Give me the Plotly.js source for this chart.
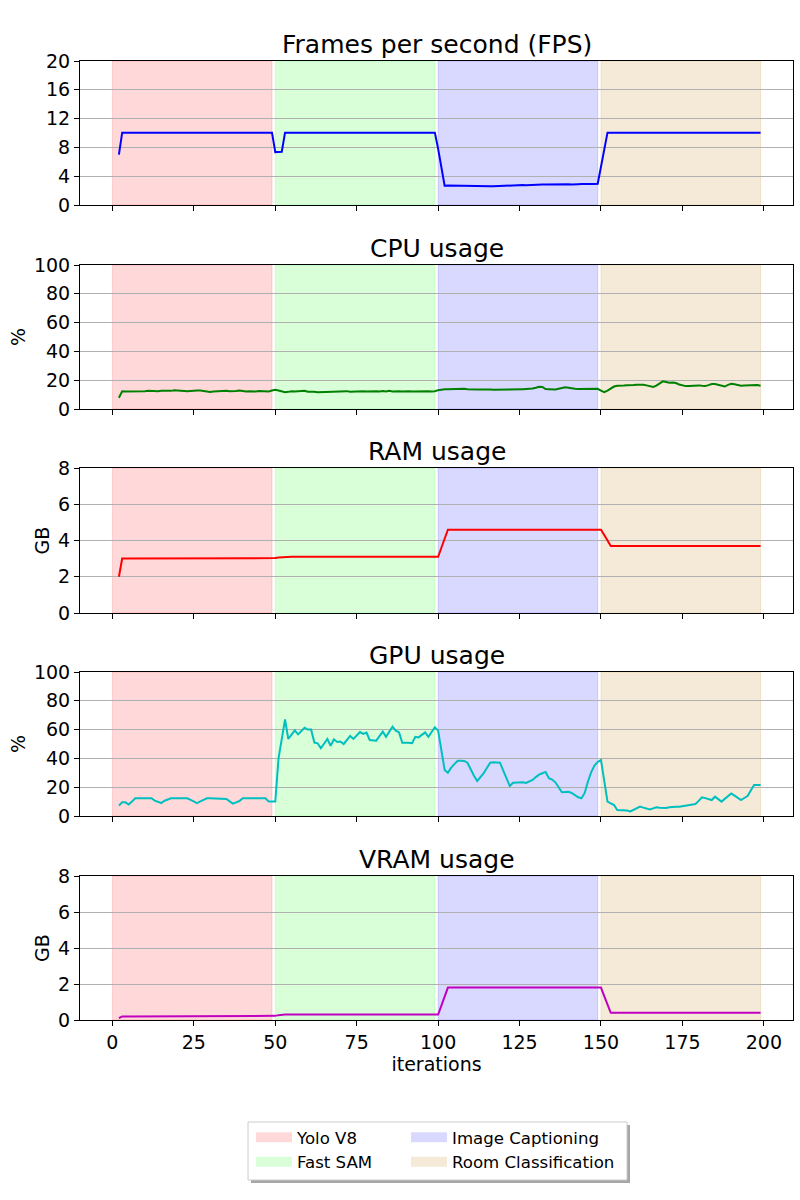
<!DOCTYPE html>
<html>
<head>
<meta charset="utf-8">
<script src="https://cdn.plot.ly/plotly-3.0.1.min.js"></script>
<style>html,body{margin:0;padding:0;background:#fff;}#chart{width:800px;height:1200px;}</style>
</head>
<body>
<div id="chart"></div>
<script>
// ---------------- DATA ----------------
const firstIteration = 2; // iterations run from 2 to 199

const phaseNames = ["Yolo V8", "Fast SAM", "Image Captioning", "Room Classification"];
const phaseStart = [0, 50, 100, 150];
const phaseEnd = [49, 99, 149, 199];

const fps = [
  7.0, 10.05, 10.05, 10.05, 10.05, 10.05, 10.05, 10.05, 10.05, 10.05,
  10.05, 10.05, 10.05, 10.05, 10.05, 10.05, 10.05, 10.05, 10.05, 10.05,
  10.05, 10.05, 10.05, 10.05, 10.05, 10.05, 10.05, 10.05, 10.05, 10.05,
  10.05, 10.05, 10.05, 10.05, 10.05, 10.05, 10.05, 10.05, 10.05, 10.05,
  10.05, 10.05, 10.05, 10.05, 10.05, 10.05, 10.05, 10.05, 7.35, 7.35,
  7.4, 10.05, 10.05, 10.05, 10.05, 10.05, 10.05, 10.05, 10.05, 10.05,
  10.05, 10.05, 10.05, 10.05, 10.05, 10.05, 10.05, 10.05, 10.05, 10.05,
  10.05, 10.05, 10.05, 10.05, 10.05, 10.05, 10.05, 10.05, 10.05, 10.05,
  10.05, 10.05, 10.05, 10.05, 10.05, 10.05, 10.05, 10.05, 10.05, 10.05,
  10.05, 10.05, 10.05, 10.05, 10.05, 10.05, 10.05, 10.05, 7.8, 5.2,
  2.68, 2.72, 2.72, 2.70, 2.68, 2.66, 2.62, 2.64, 2.66, 2.70,
  2.72, 2.70, 2.66, 2.64, 2.62, 2.60, 2.62, 2.66, 2.70, 2.75,
  2.78, 2.76, 2.80, 2.82, 2.78, 2.74, 2.78, 2.80, 2.83, 2.82,
  2.85, 2.84, 2.86, 2.82, 2.86, 2.88, 2.86, 2.90, 2.88, 2.86,
  2.92, 2.88, 2.90, 2.88, 2.90, 2.88, 2.92, 2.95, 5.5, 7.8,
  10.05, 10.05, 10.05, 10.05, 10.05, 10.05, 10.05, 10.05, 10.05, 10.05,
  10.05, 10.05, 10.05, 10.05, 10.05, 10.05, 10.05, 10.05, 10.05, 10.05,
  10.05, 10.05, 10.05, 10.05, 10.05, 10.05, 10.05, 10.05, 10.05, 10.05,
  10.05, 10.05, 10.05, 10.05, 10.05, 10.05, 10.05, 10.05, 10.05, 10.05,
  10.05, 10.05, 10.05, 10.05, 10.05, 10.05, 10.05, 10.05
];

const cpu = [
  7.8, 12.3, 12.2, 12.2, 12.1, 12.1, 12.0, 12.2, 12.4, 12.6,
  12.4, 12.2, 12.4, 12.7, 12.5, 12.3, 12.6, 13.0, 12.7, 12.4,
  12.2, 12.3, 12.5, 12.8, 12.9, 12.8, 12.5, 12.1, 11.8, 12.2,
  12.4, 12.6, 12.4, 12.7, 12.3, 12.2, 12.5, 12.8, 12.4, 12.2,
  12.4, 12.2, 12.1, 12.5, 12.3, 12.4, 12.2, 12.8, 13.4, 12.9,
  12.1, 11.6, 11.9, 12.3, 12.1, 12.3, 12.6, 12.7, 12.0, 12.2,
  12.0, 11.7, 11.8, 11.9, 12.2, 12.1, 12.3, 12.4, 12.5, 12.8,
  12.4, 12.0, 12.2, 12.3, 12.5, 12.3, 12.1, 12.2, 12.6, 12.4,
  12.1, 12.5, 12.2, 12.7, 12.1, 12.4, 12.3, 12.2, 12.4, 12.3,
  12.2, 12.3, 12.1, 12.2, 12.4, 12.3, 12.2, 12.3, 13.1, 13.6,
  13.7, 13.8, 13.9, 13.9, 13.8, 13.9, 14.0, 13.8, 13.6, 13.5,
  13.5, 13.6, 13.7, 13.6, 13.5, 13.3, 13.3, 13.4, 13.5, 13.6,
  13.6, 13.7, 13.7, 13.8, 13.8, 13.9, 13.9, 14.2, 14.8, 15.5,
  15.3, 13.9, 13.8, 13.6, 13.5, 14.0, 14.6, 15.1, 14.7, 14.2,
  14.0, 13.9, 13.9, 14.0, 13.9, 14.0, 14.1, 14.0, 12.8, 11.7,
  12.8, 14.0, 15.6, 16.2, 16.0, 16.3, 16.5, 16.4, 16.6, 16.8,
  17.1, 16.9, 16.4, 15.8, 15.3, 16.2, 17.8, 19.2, 18.8, 18.2,
  18.4, 18.0, 17.0, 16.2, 15.9, 16.0, 16.3, 16.5, 16.4, 16.1,
  15.9, 16.6, 17.4, 17.3, 16.8, 16.1, 15.6, 16.8, 17.5, 17.2,
  16.5, 16.2, 16.3, 16.4, 16.8, 17.0, 16.6, 16.2
];

const ram = [
  2.0, 3.0, 3.0, 3.0, 3.0, 3.0, 3.0, 3.0, 3.0, 3.0,
  3.0, 3.0, 3.0, 3.0, 3.0, 3.0, 3.0, 3.0, 3.0, 3.0,
  3.0, 3.0, 3.0, 3.0, 3.0, 3.0, 3.0, 3.0, 3.0, 3.0,
  3.0, 3.0, 3.0, 3.0, 3.0, 3.0, 3.0, 3.0, 3.0, 3.0,
  3.0, 3.0, 3.0, 3.0, 3.0, 3.0, 3.0, 3.0, 3.03, 3.06,
  3.08, 3.1, 3.1, 3.1, 3.1, 3.1, 3.1, 3.1, 3.1, 3.1,
  3.1, 3.1, 3.1, 3.1, 3.1, 3.1, 3.1, 3.1, 3.1, 3.1,
  3.1, 3.1, 3.1, 3.1, 3.1, 3.1, 3.1, 3.1, 3.1, 3.1,
  3.1, 3.1, 3.1, 3.1, 3.1, 3.1, 3.1, 3.1, 3.1, 3.1,
  3.1, 3.1, 3.1, 3.1, 3.1, 3.1, 3.1, 3.1, 3.1, 3.6,
  4.1, 4.6, 4.6, 4.6, 4.6, 4.6, 4.6, 4.6, 4.6, 4.6,
  4.6, 4.6, 4.6, 4.6, 4.6, 4.6, 4.6, 4.6, 4.6, 4.6,
  4.6, 4.6, 4.6, 4.6, 4.6, 4.6, 4.6, 4.6, 4.6, 4.6,
  4.6, 4.6, 4.6, 4.6, 4.6, 4.6, 4.6, 4.6, 4.6, 4.6,
  4.6, 4.6, 4.6, 4.6, 4.6, 4.6, 4.6, 4.6, 4.6, 4.3,
  4.0, 3.7, 3.7, 3.7, 3.7, 3.7, 3.7, 3.7, 3.7, 3.7,
  3.7, 3.7, 3.7, 3.7, 3.7, 3.7, 3.7, 3.7, 3.7, 3.7,
  3.7, 3.7, 3.7, 3.7, 3.7, 3.7, 3.7, 3.7, 3.7, 3.7,
  3.7, 3.7, 3.7, 3.7, 3.7, 3.7, 3.7, 3.7, 3.7, 3.7,
  3.7, 3.7, 3.7, 3.7, 3.7, 3.7, 3.7, 3.7
];

const gpu = [
  7.2, 9.5, 9.5, 8.0, 10.0, 12.3, 12.3, 12.3, 12.3, 12.3,
  12.3, 10.7, 9.8, 9.0, 10.6, 11.5, 12.3, 12.3, 12.3, 12.3,
  12.3, 12.3, 11.2, 10.0, 9.0, 10.2, 11.5, 12.3, 12.3, 12.3,
  12.3, 12.3, 12.3, 11.8, 10.2, 8.6, 9.5, 10.4, 12.3, 12.3,
  12.3, 12.3, 12.3, 12.3, 12.3, 12.3, 10.0, 10.0, 10.0, 40.0,
  53.5, 67.0, 53.5, 56.5, 59.5, 56.7, 59.0, 61.3, 60.0, 60.0,
  51.0, 50.5, 47.0, 50.0, 53.5, 48.8, 53.3, 51.4, 51.7, 50.0,
  53.0, 55.6, 53.5, 56.0, 58.3, 57.0, 57.9, 52.8, 52.5, 52.3,
  55.5, 58.6, 55.0, 58.5, 62.0, 59.3, 58.0, 50.9, 51.0, 50.8,
  50.5, 55.0, 54.6, 56.5, 58.0, 55.0, 58.0, 61.6, 59.3, 45.0,
  32.0, 30.0, 33.6, 36.0, 38.4, 38.3, 38.2, 37.0, 32.0, 28.0,
  24.3, 27.0, 29.7, 33.5, 37.0, 37.3, 37.2, 37.0, 31.5, 26.0,
  20.8, 23.1, 23.3, 23.6, 23.4, 22.9, 23.8, 25.0, 27.0, 28.7,
  29.7, 30.6, 26.2, 25.3, 23.4, 20.0, 16.5, 16.7, 16.8, 16.0,
  14.2, 13.0, 12.3, 16.0, 24.0, 30.5, 35.0, 37.5, 38.9, 24.0,
  10.0, 8.8, 7.6, 4.2, 4.2, 4.2, 3.8, 3.2, 4.3, 5.4,
  6.5, 5.8, 5.2, 4.6, 5.3, 6.0, 5.8, 5.7, 5.5, 6.0,
  6.5, 6.5, 6.5, 6.8, 7.0, 7.2, 7.8, 8.3, 10.5, 13.0,
  12.4, 11.8, 11.1, 13.4, 11.7, 10.0, 11.9, 13.8, 15.7, 14.2,
  12.6, 11.1, 12.5, 13.9, 17.7, 21.5, 21.5, 21.5
];

const vram = [
  0.1, 0.2, 0.2, 0.2, 0.2, 0.2, 0.2, 0.2, 0.2, 0.2,
  0.2, 0.2, 0.2, 0.2, 0.2, 0.2, 0.2, 0.2, 0.2, 0.2,
  0.2, 0.2, 0.2, 0.2, 0.2, 0.2, 0.2, 0.2, 0.2, 0.2,
  0.2, 0.2, 0.2, 0.2, 0.2, 0.2, 0.2, 0.2, 0.2, 0.2,
  0.2, 0.2, 0.2, 0.2, 0.2, 0.2, 0.2, 0.2, 0.23, 0.27,
  0.3, 0.3, 0.3, 0.3, 0.3, 0.3, 0.3, 0.3, 0.3, 0.3,
  0.3, 0.3, 0.3, 0.3, 0.3, 0.3, 0.3, 0.3, 0.3, 0.3,
  0.3, 0.3, 0.3, 0.3, 0.3, 0.3, 0.3, 0.3, 0.3, 0.3,
  0.3, 0.3, 0.3, 0.3, 0.3, 0.3, 0.3, 0.3, 0.3, 0.3,
  0.3, 0.3, 0.3, 0.3, 0.3, 0.3, 0.3, 0.3, 0.3, 0.8,
  1.3, 1.8, 1.8, 1.8, 1.8, 1.8, 1.8, 1.8, 1.8, 1.8,
  1.8, 1.8, 1.8, 1.8, 1.8, 1.8, 1.8, 1.8, 1.8, 1.8,
  1.8, 1.8, 1.8, 1.8, 1.8, 1.8, 1.8, 1.8, 1.8, 1.8,
  1.8, 1.8, 1.8, 1.8, 1.8, 1.8, 1.8, 1.8, 1.8, 1.8,
  1.8, 1.8, 1.8, 1.8, 1.8, 1.8, 1.8, 1.8, 1.8, 1.33,
  0.87, 0.4, 0.4, 0.4, 0.4, 0.4, 0.4, 0.4, 0.4, 0.4,
  0.4, 0.4, 0.4, 0.4, 0.4, 0.4, 0.4, 0.4, 0.4, 0.4,
  0.4, 0.4, 0.4, 0.4, 0.4, 0.4, 0.4, 0.4, 0.4, 0.4,
  0.4, 0.4, 0.4, 0.4, 0.4, 0.4, 0.4, 0.4, 0.4, 0.4,
  0.4, 0.4, 0.4, 0.4, 0.4, 0.4, 0.4, 0.4
];

const panelTitles = ["Frames per second (FPS)", "CPU usage", "RAM usage", "GPU usage", "VRAM usage"];
const panelUnits = ["", "%", "GB", "%", "GB"];
const panelMax = [20, 100, 8, 100, 8];
const panelTickStep = [4, 20, 2, 20, 2];
const xTickVals = [0, 25, 50, 75, 100, 125, 150, 175, 200];
const xLabel = "iterations";

// ---------------- STYLE ----------------
const series = [fps, cpu, ram, gpu, vram];
const lineColors = ["#0000ff", "#008000", "#ff0000", "#00bfbf", "#bf00bf"];
const phaseFill = ["rgba(255,0,0,0.15)", "rgba(0,255,0,0.15)", "rgba(0,0,255,0.15)", "rgba(205,150,60,0.2)"];
const phaseLegend = ["legend", "legend", "legend2", "legend2"];

const W = 800, H = 1200;
const M = {l: 80, r: 7, t: 61, b: 180};
const plotH = H - M.t - M.b;
const panelTopPx = [61, 265, 468, 672, 876];
const panelBotPx = [205, 409, 613, 816, 1020];
const FONT = "DejaVu Sans, sans-serif";

const iterations = fps.map((_, i) => firstIteration + i);

const data = [];
const layout = {
  width: W, height: H,
  margin: M,
  paper_bgcolor: "#ffffff",
  plot_bgcolor: "rgba(0,0,0,0)",
  font: {family: FONT, size: 19, color: "#000000"},
  showlegend: true,
  shapes: [],
  annotations: []
};

for (let p = 0; p < 5; p++) {
  const sfx = p === 0 ? "" : String(p + 1);
  const xa = "x" + sfx, ya = "y" + sfx;
  data.push({
    type: "scatter", mode: "lines",
    x: iterations, y: series[p],
    xaxis: xa, yaxis: ya,
    line: {color: lineColors[p], width: 2},
    showlegend: false, hoverinfo: "skip"
  });
  const d0 = (M.t + plotH - panelBotPx[p]) / plotH;
  const d1 = (M.t + plotH - panelTopPx[p]) / plotH;
  layout["xaxis" + sfx] = {
    domain: [0, 1], anchor: ya,
    range: [-9.95, 208.95],
    matches: p === 0 ? undefined : "x",
    tickvals: xTickVals,
    showticklabels: p === 4,
    ticks: "outside", ticklen: 5, tickwidth: 1, tickcolor: "#000",
    showline: true, mirror: true, linecolor: "#000", linewidth: 1,
    showgrid: false, zeroline: false,
    tickfont: {family: FONT, size: 19, color: "#000"},
    title: p === 4 ? {text: xLabel, font: {family: FONT, size: 19, color: "#000"}, standoff: 3} : undefined
  };
  const yt = [];
  for (let v = 0; v <= panelMax[p]; v += panelTickStep[p]) yt.push(v);
  layout["yaxis" + sfx] = {
    domain: [d0, d1], anchor: xa,
    range: [0, panelMax[p]],
    tickvals: yt,
    ticks: "outside", ticklen: 5, tickwidth: 1, tickcolor: "#000",
    showline: true, mirror: true, linecolor: "#000", linewidth: 1,
    showgrid: true, gridcolor: "#b0b0b0", gridwidth: 1, zeroline: false,
    tickfont: {family: FONT, size: 19, color: "#000"},
    title: panelUnits[p] ? {text: panelUnits[p], font: {family: FONT, size: 19, color: "#000"}, standoff: 3} : undefined
  };
  layout.annotations.push({
    text: panelTitles[p], xref: "paper", yref: "paper", x: 0.5, y: d1,
    xanchor: "center", yanchor: "middle", yshift: 17, showarrow: false,
    font: {family: FONT, size: 25, color: "#000"}
  });
  for (let k = 0; k < 4; k++) {
    layout.shapes.push({
      type: "rect", xref: xa, yref: ya + " domain",
      x0: phaseStart[k], x1: phaseEnd[k], y0: 0, y1: 1,
      fillcolor: phaseFill[k], line: {color: phaseFill[k], width: 1},
      layer: "below"
    });
  }
}

// legend entries: one swatch per phase (no data points, legend only)
for (let k = 0; k < 4; k++) {
  data.push({
    type: "scatter", mode: "lines",
    x: [null], y: [null],
    name: phaseNames[k],
    legend: phaseLegend[k],
    line: {color: phaseFill[k], width: 12},
    hoverinfo: "skip"
  });
}

// legend frame with shadow (paper coordinates)
const px2x = px => (px - M.l) / (W - M.l - M.r);
const py2y = py => (M.t + plotH - py) / plotH;
layout.shapes.push({
  type: "rect", xref: "paper", yref: "paper",
  x0: px2x(251), x1: px2x(630), y0: py2y(1125), y1: py2y(1183),
  fillcolor: "rgba(77,77,77,0.5)", line: {width: 0}, layer: "above"
});
layout.shapes.push({
  type: "rect", xref: "paper", yref: "paper",
  x0: px2x(248), x1: px2x(627), y0: py2y(1122), y1: py2y(1180),
  fillcolor: "#ffffff", line: {color: "#cccccc", width: 1}, layer: "above"
});

const legendCommon = {
  orientation: "v", bgcolor: "rgba(0,0,0,0)", borderwidth: 0,
  font: {family: FONT, size: 16.6, color: "#000"},
  xanchor: "left", yanchor: "top", itemwidth: 36, tracegroupgap: 0
};
layout.legend = Object.assign({}, legendCommon, {x: px2x(251), y: py2y(1120)});
layout.legend2 = Object.assign({}, legendCommon, {x: px2x(406), y: py2y(1120)});

Plotly.newPlot("chart", data, layout, {displayModeBar: false, staticPlot: true});
</script>
</body>
</html>
